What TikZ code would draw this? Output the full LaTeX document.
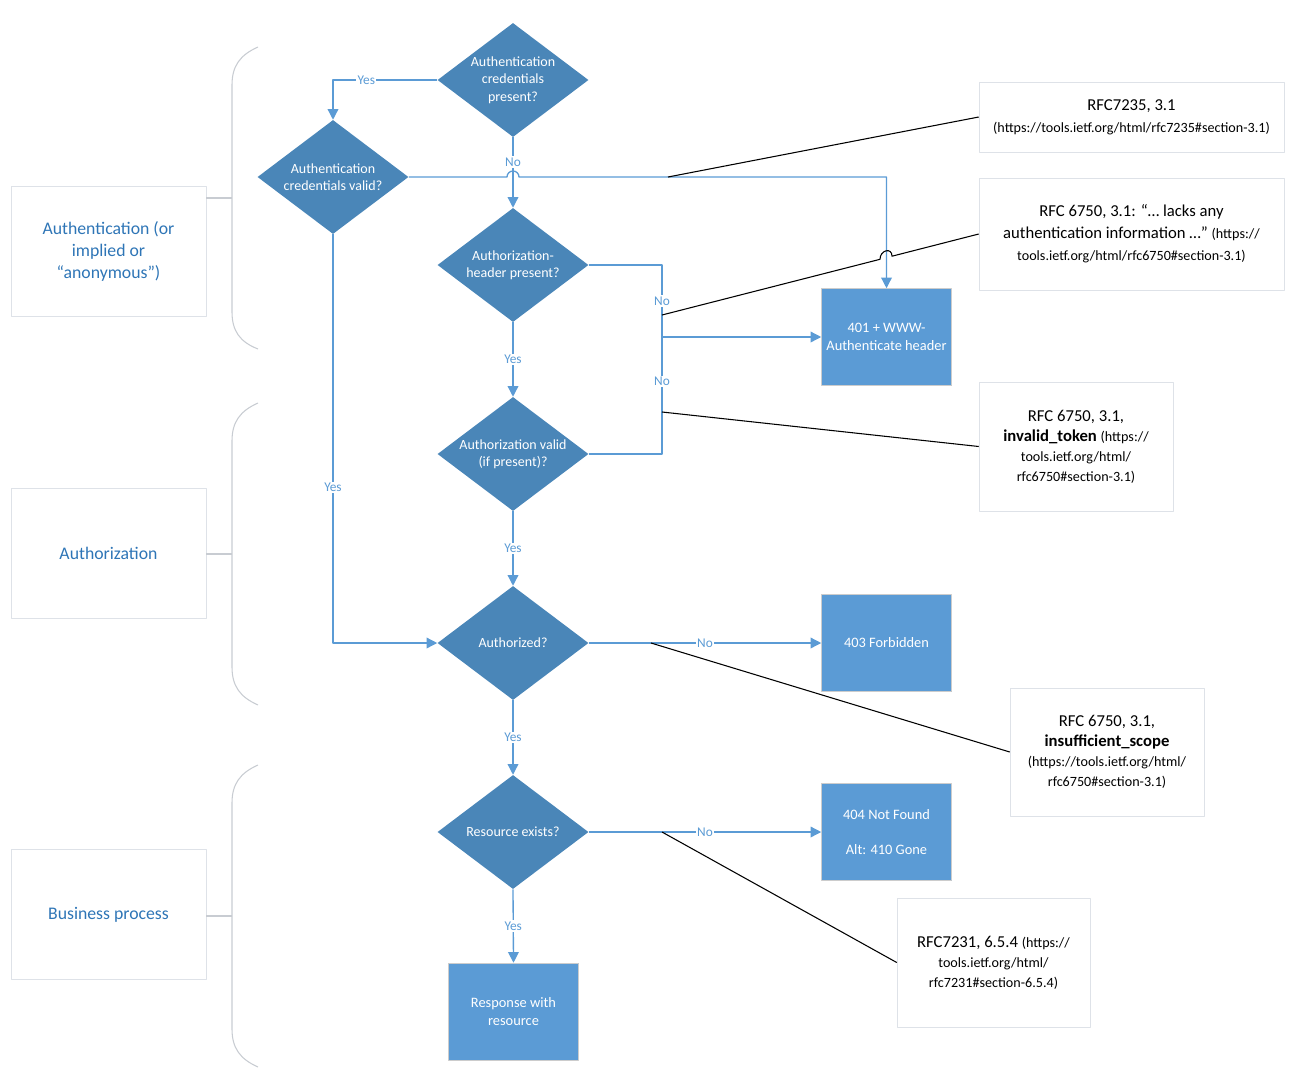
\documentclass[tikz,border=0pt]{standalone}
\usepackage{fontspec}
\setmainfont{Carlito}
\usetikzlibrary{shapes.geometric,arrows.meta}
\definecolor{dmdblue}{RGB}{74,134,184}
\definecolor{boxblue}{RGB}{91,155,213}
\definecolor{flowblue}{RGB}{91,155,213}
\definecolor{sectblue}{RGB}{46,117,182}
\definecolor{framegray}{RGB}{222,226,232}
\definecolor{bracegray}{RGB}{200,204,210}
\begin{document}
\begin{tikzpicture}[x=.75pt,y=-.75pt,line join=round,
	dmd/.style={diamond,aspect=1.32,inner sep=0pt,fill=dmdblue,text=white,align=center,
		minimum width=113.25pt,minimum height=85.5pt,font=\fontsize{10.5}{13}\selectfont},
	res/.style={rectangle,fill=boxblue,draw=black!20,text=white,align=center,
		minimum width=97.5pt,minimum height=72.75pt,font=\fontsize{10.8}{13}\selectfont},
	sect/.style={rectangle,draw=framegray,text=sectblue,align=center,
		minimum width=146.25pt,minimum height=97.5pt,font=\fontsize{13.3}{16.5}\selectfont},
	rfc/.style={rectangle,draw=framegray,align=center,font=\fontsize{12.5}{16.5}\selectfont},
	flow/.style={draw=flowblue,line width=1pt,-{Triangle[length=8pt,width=8pt]}},
	flowline/.style={draw=flowblue,line width=1pt},
	elbl/.style={fill=white,text=flowblue,inner sep=1pt,font=\fontsize{10}{12}\selectfont},
	note/.style={draw=black,line width=.8pt},
	brc/.style={draw=bracegray,line width=.8pt}]
	%========================
	\useasboundingbox (0,0) rectangle (1313,1071);
	% sections
	\node[sect] (s1) at (108.5,251) {Authentication (or\\implied or\\“anonymous”)};
	\node[sect] (s2) at (108.5,553.5) {Authorization};
	\node[sect] (s3) at (108.5,914.5) {Business process};
	\draw[brc] (258,47) .. controls (240,55) and (232,66) .. (232,85) -- (232,312) .. controls (232,331) and (240,342) .. (258,349);
	\draw[brc] (258,403) .. controls (240,411) and (232,422) .. (232,441) -- (232,667) .. controls (232,686) and (240,697) .. (258,705);
	\draw[brc] (258,765) .. controls (240,773) and (232,784) .. (232,803) -- (232,1029) .. controls (232,1048) and (240,1059) .. (258,1067);
	\coordinate (m1) at (232,198);
	\coordinate (m2) at (232,554);
	\coordinate (m3) at (232,916);
	\draw[brc] (m1) -- (m1 -| s1.east);
	\draw[brc] (m2) -- (m2 -| s2.east);
	\draw[brc] (m3) -- (m3 -| s3.east);
	%========================
	% decisions
	\node[dmd] (cpres) at (513,80) {Authentication\\credentials\\present?};
	\node[dmd] (cval) at (333,177) {Authentication\\credentials valid?};
	\node[dmd] (ahdr) at (513,265) {Authorization-\\header present?};
	\node[dmd] (aval) at (513,454) {Authorization valid\\(if present)?};
	\node[dmd] (authz) at (513,643) {Authorized?};
	\node[dmd] (rex) at (513,832) {Resource exists?};
	% outcomes
	\node[res] (e401) at (886.5,337) {401 + WWW-\\Authenticate header};
	\node[res] (e403) at (886.5,643) {403 Forbidden};
	\node[res] (e404) at (886.5,832) {404 Not Found\\[\baselineskip]Alt: 410 Gone};
	\node[res] (resp) at (513.5,1011.5) {Response with\\resource};
	%========================
	% flow
	\coordinate (j) at (662,337);
	\draw[flow] (cpres.west) -| node[elbl,pos=.34]{Yes} (cval.north);
	\draw[flow] (cpres.south) -- node[elbl,pos=.35]{No} (ahdr.north);
	\draw[flow] (cval.east) -- (507,177) arc[start angle=180,end angle=0,radius=4.5pt] -| (e401.north);
	\draw[flow] (cval.south) |- node[elbl,pos=.31]{Yes} (authz.west);
	\draw[flow] (ahdr.east) -| node[elbl,pos=.75]{No} (j) -- (e401.west);
	\draw[flowline] (aval.east) -| node[elbl,pos=.81]{No} (j);
	\draw[flow] (ahdr.south) -- node[elbl]{Yes} (aval.north);
	\draw[flow] (aval.south) -- node[elbl]{Yes} (authz.north);
	\draw[flow] (authz.east) -- node[elbl,pos=.5]{No} (e403.west);
	\draw[flow] (authz.south) -- node[elbl]{Yes} (rex.north);
	\draw[flow] (rex.east) -- node[elbl,pos=.5]{No} (e404.west);
	\draw[flow] (rex.south) -- node[elbl]{Yes} (resp.north);
	%========================
	% references
	\node[rfc,minimum width=228.75pt,minimum height=52.5pt] (r1) at (1131.5,117)
		{RFC7235, 3.1\\{\fontsize{10.6}{15}\selectfont(https://tools.ietf.org/html/rfc7235\#section-3.1)}};
	\node[rfc,minimum width=228.75pt,minimum height=84pt] (r2) at (1131.5,234)
		{RFC 6750, 3.1: “… lacks any\\authentication information …” {\fontsize{10.6}{15}\selectfont(https://}\\{\fontsize{10.6}{15}\selectfont tools.ietf.org/html/rfc6750\#section-3.1)}};
	\node[rfc,minimum width=145.5pt,minimum height=96.75pt,font=\fontsize{12.5}{15}\selectfont] (r3) at (1076,446.5)
		{RFC 6750, 3.1,\\\textbf{invalid\_token} {\fontsize{10.6}{15}\selectfont(https://}\\{\fontsize{10.6}{15}\selectfont tools.ietf.org/html/}\\{\fontsize{10.6}{15}\selectfont rfc6750\#section-3.1)}};
	\node[rfc,minimum width=145.5pt,minimum height=96pt,font=\fontsize{12.5}{15}\selectfont] (r4) at (1107,752)
		{RFC 6750, 3.1,\\\textbf{insufficient\_scope}\\{\fontsize{10.6}{15}\selectfont(https://tools.ietf.org/html/}\\{\fontsize{10.6}{15}\selectfont rfc6750\#section-3.1)}};
	\node[rfc,minimum width=144.75pt,minimum height=96.75pt,font=\fontsize{12.5}{15}\selectfont] (r5) at (993.5,962.5)
		{RFC7231, 6.5.4 {\fontsize{10.6}{15}\selectfont(https://}\\{\fontsize{10.6}{15}\selectfont tools.ietf.org/html/}\\{\fontsize{10.6}{15}\selectfont rfc7231\#section-6.5.4)}};
	\coordinate (t1) at (668,177);
	\coordinate (t2) at (662,315);
	\coordinate (t3) at (662,412);
	\coordinate (t4) at (651,643);
	\coordinate (t5) at (662,832);
	\draw[note] (t1) -- (r1.west);
	\draw[note] (t2) -- (880,259.3) .. controls (880,250) and (892,247) .. (892,256.2) -- (r2.west);
	\draw[note] (t3) -- (r3.west);
	\draw[note] (t4) -- (r4.west);
	\draw[note] (t5) -- (r5.west);
	%========================
\end{tikzpicture}
\end{document}
